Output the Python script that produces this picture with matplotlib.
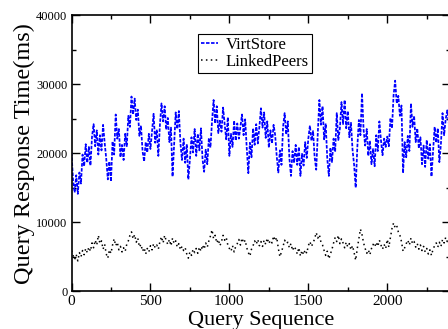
import numpy as np
import matplotlib
matplotlib.use('Agg')
import matplotlib.pyplot as plt
from matplotlib.ticker import MultipleLocator

plt.rcParams['font.family'] = ['Liberation Serif', 'DejaVu Serif']

# response times (ms), one sample every 10 queries
query_step = 10
virtstore = [
    20100, 16000, 14300, 16800, 14100, 17200, 15600, 19800, 18100, 21300,
    18600, 20900, 18200, 22400, 24200, 21000, 23300, 19800, 22600, 20400,
    24100, 21500, 19200, 16200, 18800, 15900, 21700, 19800, 25600, 22100,
    23500, 19400, 21200, 19000, 22800, 21000, 25400, 23800, 28200, 25600,
    27900, 24800, 26300, 22500, 24000, 20300, 18800, 21600, 20100, 22800,
    20600, 23100, 25700, 21500, 23400, 19600, 24100, 27200, 24600, 26800,
    23400, 25100, 21600, 23700, 16600, 21200, 25900, 23500, 26100, 21400,
    19000, 22100, 18600, 21300, 16200, 19100, 22300, 20100, 23500, 19600,
    22800, 20400, 23600, 19100, 17300, 20500, 18400, 22200, 20800, 24600,
    27700, 24300, 26800, 22900, 24700, 23100, 26600, 24200, 22000, 25200,
    19600, 22800, 20900, 24700, 21800, 24300, 22100, 23800, 25600, 22600,
    24900, 20700, 17100, 21500, 19400, 23600, 21200, 24200, 21400, 23800,
    26500, 23700, 25900, 22200, 24600, 20800, 23300, 21400, 24100, 22600,
    19500, 17200, 20400, 18300, 23800, 25800, 22700, 24600, 19300, 16700,
    20300, 18600, 21200, 18300, 20900, 16700, 19900, 18200, 21600, 19300,
    22100, 24000, 21800, 23200, 19400, 17600, 22900, 27700, 24100, 26800,
    22000, 24300, 19200, 16700, 20800, 18700, 22100, 20200, 25800, 21900,
    23600, 27400, 24200, 27700, 23600, 26100, 22300, 24400, 20500, 18300,
    15000, 20700, 24800, 22600, 28700, 23400, 21100, 23500, 19600, 21800,
    18400, 20600, 18100, 22600, 20300, 24600, 21900, 19700, 22100, 20900,
    22400, 21000, 25100, 23600, 28400, 30500, 27200, 28300, 25400, 26900,
    17100, 21600, 19400, 22500, 20300, 27200, 23800, 25400, 21600, 23600,
    20700, 22300, 18400, 21100, 18000, 21900, 19200, 21300, 16600, 20200,
    23800, 21500, 23600, 18700, 21400, 25800, 22600, 24900, 26200, 24300,
]
linkedpeers = [
    5900, 5200, 4600, 5300, 4400, 5600, 5000, 5900, 5300, 6200,
    5600, 6400, 5800, 7000, 6300, 7400, 6700, 8100, 6900, 7300,
    6100, 6800, 5400, 4800, 6000, 5500, 6700, 7600, 6600, 7100,
    6000, 6500, 5700, 6300, 5800, 6800, 7300, 8100, 8600, 7600,
    8200, 7100, 7700, 6400, 6800, 5800, 6300, 5400, 6200, 5700,
    6600, 6000, 6900, 6300, 6700, 6100, 7200, 7900, 7000, 8100,
    7300, 6800, 7500, 6600, 7700, 6900, 7300, 6400, 6900, 6000,
    6500, 5900, 6300, 5400, 4800, 5700, 5200, 6100, 5600, 6200,
    5500, 6400, 5800, 6700, 6100, 7000, 6400, 7300, 8000, 8900,
    7600, 8100, 7000, 7500, 6600, 7200, 8100, 7400, 7800, 6700,
    6200, 5800, 6600, 5700, 6500, 6900, 7500, 6700, 7700, 7000,
    7400, 6300, 5600, 5100, 6100, 6600, 7300, 6800, 7500, 6600,
    7200, 6500, 7400, 6800, 7700, 6900, 7400, 7000, 8000, 7300,
    7800, 6200, 5000, 5700, 6500, 7400, 6900, 7100, 6300, 6900,
    5900, 6500, 6100, 5400, 6300, 5100, 5900, 5300, 6000, 5500,
    6600, 7200, 6500, 7000, 7600, 8500, 7700, 8200, 7100, 6700,
    5900, 5200, 5800, 4700, 5400, 6100, 7000, 7800, 7200, 8100,
    6900, 7600, 7000, 6300, 7100, 6400, 6900, 6000, 6600, 5600,
    4500, 6200, 7600, 9000, 8200, 7000, 6200, 5500, 6000, 5300,
    6200, 6800, 6400, 7100, 6500, 7400, 6700, 6100, 6800, 6200,
    7500, 6400, 7800, 9100, 9900, 9200, 9500, 8600, 8100, 7200,
    5800, 6300, 6900, 7400, 6700, 7700, 6900, 7200, 6400, 6900,
    6100, 6700, 5900, 6500, 5700, 6200, 5400, 6000, 5200, 6100,
    6600, 7000, 6400, 7100, 6500, 7500, 7000, 7800, 7200, 7600,
]

queries = np.arange(len(virtstore)) * query_step

fig = plt.figure(figsize=(4.48, 3.29), dpi=100)
ax = fig.add_axes([0.1596, 0.1146, 0.8458, 0.8398])

ax.plot(queries, virtstore, color='#0000ff', linestyle=(0, (2.0, 0.9)),
        linewidth=1.25, label='VirtStore')
ax.plot(queries, linkedpeers, color='black', linestyle=(0, (1, 2.2)),
        linewidth=1.1, label='LinkedPeers')

ax.set_xlim(0, 2400)
ax.set_ylim(0, 40000)
ax.xaxis.set_major_locator(MultipleLocator(500))
ax.xaxis.set_minor_locator(MultipleLocator(250))
ax.yaxis.set_major_locator(MultipleLocator(10000))
ax.yaxis.set_minor_locator(MultipleLocator(5000))
ax.tick_params(which='both', direction='in', top=True, right=True, width=1.0)
ax.tick_params(which='major', length=6)
ax.tick_params(which='minor', length=3)
ax.tick_params(axis='x', which='major', labelsize=11, pad=3)
ax.tick_params(axis='y', which='major', labelsize=9, pad=3)
for s in ax.spines.values():
    s.set_linewidth(1.2)

ax.set_xlabel('Query Sequence', fontsize=16, labelpad=2)
ax.set_ylabel('Query Response Time(ms)', fontsize=17.5, labelpad=1)

leg = ax.legend(loc='upper left', bbox_to_anchor=(0.441, 0.897),
                bbox_transform=fig.transFigure, fontsize=12, frameon=True,
                fancybox=False, edgecolor='black', framealpha=1,
                borderpad=0.2, handlelength=1.0, handletextpad=0.5,
                labelspacing=0.05, borderaxespad=0)
leg.get_frame().set_linewidth(0.8)

fig.savefig('out.png', dpi=100)
